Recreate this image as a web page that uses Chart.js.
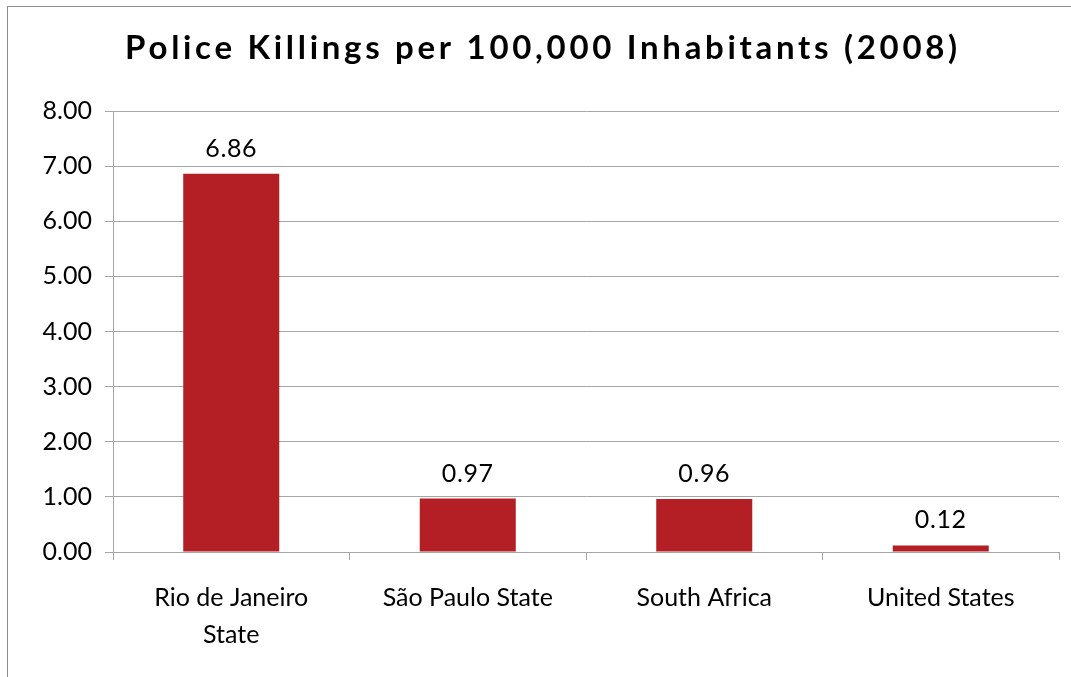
<!DOCTYPE html>
<html>
<head>
<meta charset="utf-8">
<script src="https://cdn.jsdelivr.net/npm/chart.js@4"></script>
<style>
    html, body { margin: 0; padding: 0; background: #ffffff; }
    #marco { position: absolute; left: 7px; top: 6px; width: 1100px; height: 700px; border-left: 1px solid #8c8c8c; border-top: 1px solid #8c8c8c; }
    #contenedor { position: absolute; left: 0; top: 0; width: 1071px; height: 677px; }
</style>
</head>
<body>
<div id="marco"></div>
<div id="contenedor"><canvas id="graficoPolicia"></canvas></div>
<script>
var titulo = 'Police Killings per 100,000 Inhabitants (2008)';
var paises = [['Rio de Janeiro', 'State'], 'São Paulo State', 'South Africa', 'United States'];
var muertes = [6.86, 0.97, 0.96, 0.12];
var ticksY = [0, 1, 2, 3, 4, 5, 6, 7, 8];

var fuente = 'Lato, "Open Sans", sans-serif';

// titulo con letras separadas, como en el original
var tituloEspaciado = {
    id: 'tituloEspaciado',
    afterDraw: function (chart) {
        var ctx = chart.ctx;
        ctx.save();
        ctx.font = 'bold 33px ' + fuente;
        ctx.letterSpacing = '3.7px';
        ctx.fillStyle = '#000000';
        ctx.textAlign = 'center';
        ctx.textBaseline = 'alphabetic';
        ctx.fillText(titulo, 543, 59);
        ctx.restore();
    }
};

// etiquetas encima de cada barra
var etiquetasBarras = {
    id: 'etiquetasBarras',
    afterDatasetsDraw: function (chart) {
        var ctx = chart.ctx;
        var meta = chart.getDatasetMeta(0);
        ctx.save();
        ctx.font = '25px ' + fuente;
        ctx.letterSpacing = '0.6px';
        ctx.fillStyle = '#000000';
        ctx.textAlign = 'center';
        ctx.textBaseline = 'middle';
        meta.data.forEach(function (barra, i) {
            ctx.fillText(muertes[i].toFixed(2), barra.x, barra.y - 25);
        });
        ctx.restore();
    }
};

var ctx = document.getElementById('graficoPolicia').getContext('2d');
var myChart = new Chart(ctx, {
    type: 'bar',
    data: {
        labels: paises,
        datasets: [{
            data: muertes,
            backgroundColor: '#b31f25',
            categoryPercentage: 0.406,
            barPercentage: 1
        }]
    },
    options: {
        responsive: true,
        maintainAspectRatio: false,
        animation: false,
        layout: { padding: { left: 20, right: 12, top: 111, bottom: 0 } },
        plugins: {
            legend: { display: false },
            tooltip: { enabled: false },
            title: { display: false }
        },
        scales: {
            y: {
                min: 0,
                max: 8,
                afterFit: function (scale) { scale.width = 93; },
                afterBuildTicks: function (scale) {
                    scale.ticks = ticksY.map(function (v) { return { value: v }; });
                },
                ticks: {
                    color: '#000000',
                    font: { family: fuente, size: 25 },
                    padding: 13,
                    callback: function (v) { return Number(v).toFixed(2); }
                },
                grid: { color: '#a6a6a6', tickLength: 8, lineWidth: 1 },
                border: { color: '#a6a6a6' }
            },
            x: {
                afterFit: function (scale) { scale.height = 125; },
                ticks: {
                    color: '#000000',
                    font: { family: fuente, size: 25, lineHeight: 1.48 },
                    padding: 19,
                    maxRotation: 0
                },
                grid: { drawOnChartArea: false, color: '#a6a6a6', tickLength: 8 },
                border: { color: '#a6a6a6' }
            }
        }
    },
    plugins: [etiquetasBarras, tituloEspaciado]
});
</script>
</body>
</html>
